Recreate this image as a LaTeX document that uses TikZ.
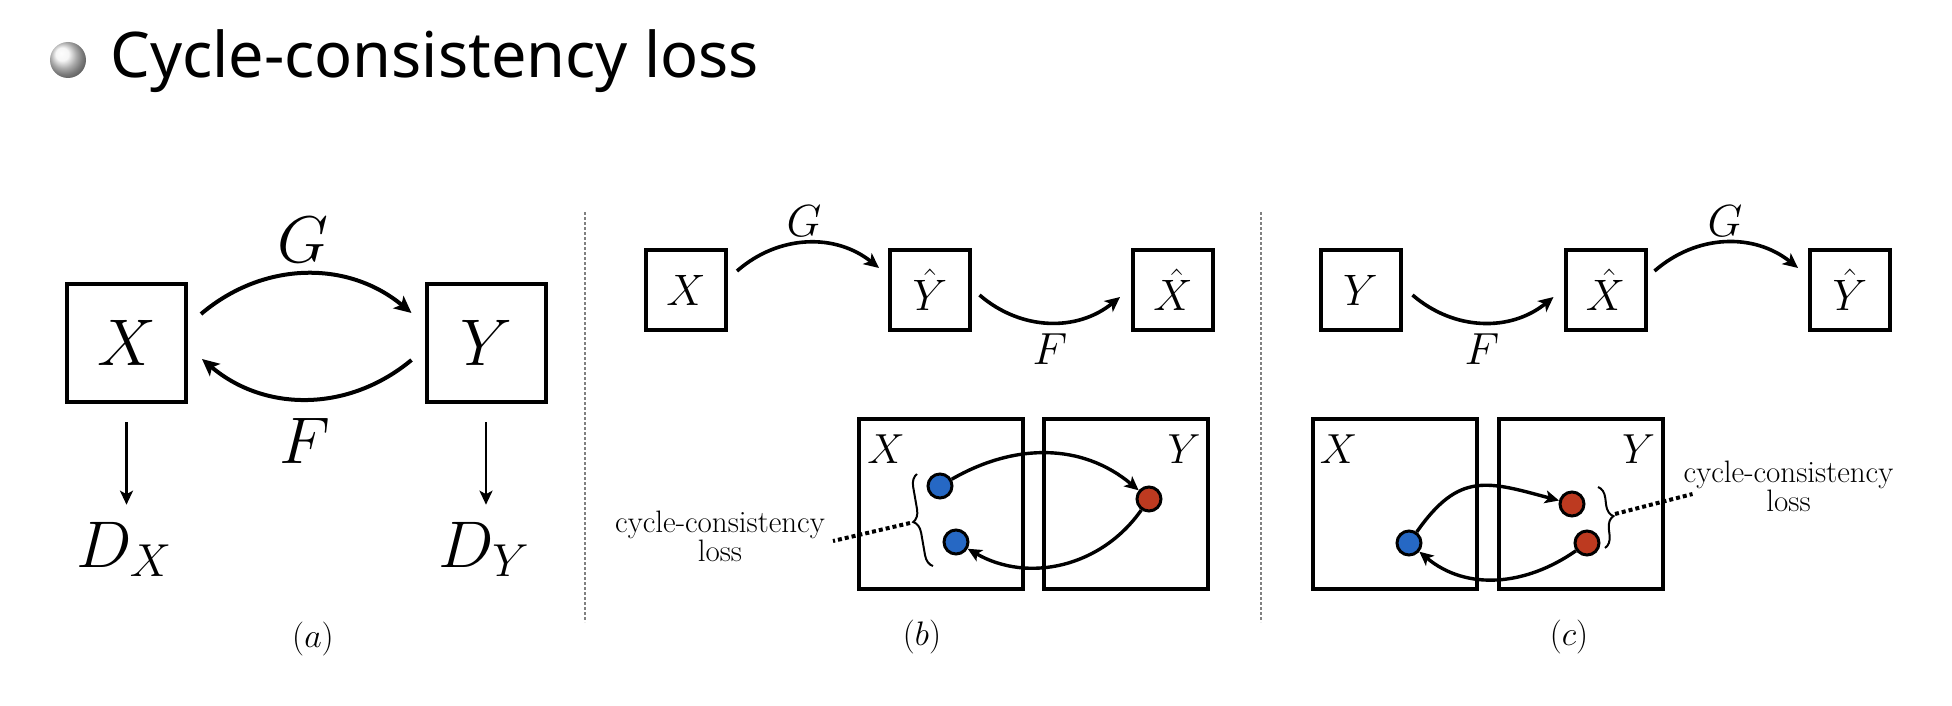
\RequirePackage{fix-cm}
\documentclass[tikz,border=0pt]{standalone}
\usepackage{amsmath}
\usepackage{fontspec}
\newfontfamily\titlefont{Noto Sans}
\usepackage{tikz}
\usetikzlibrary{arrows.meta,decorations.pathreplacing,positioning}

\definecolor{dotblue}{RGB}{38,104,196}
\definecolor{dotred}{RGB}{189,58,32}

\begin{document}
\begin{tikzpicture}[x=1pt,y=1pt,
    box/.style={draw,line width=4pt,minimum width=119pt,minimum height=118pt,inner sep=0pt,font=\fontsize{66}{70}\selectfont},
    sbox/.style={draw,line width=4pt,minimum width=80pt,minimum height=80pt,inner sep=0pt,font=\fontsize{44}{48}\selectfont},
    field/.style={draw,line width=4pt,minimum width=164pt,minimum height=170pt,inner sep=0pt},
    fieldlab/.style={anchor=base,inner sep=0pt,font=\fontsize{42}{46}\selectfont},
    big/.style={anchor=base,inner sep=0pt,font=\fontsize{66}{70}\selectfont},
    lab/.style={anchor=base,inner sep=0pt,font=\fontsize{45}{48}\selectfont},
    capt/.style={inner sep=0pt,font=\fontsize{34}{36}\selectfont},
    note/.style={inner sep=0pt,align=center,font=\fontsize{31}{29}\selectfont},
    arr/.style={line width=4pt,-{Stealth[length=17pt,width=16pt,inset=4pt]}},
    sarr/.style={line width=3.6pt,-{Stealth[length=15pt,width=14pt,inset=4pt]}},
    parr/.style={line width=3.4pt,-{Stealth[length=14pt,width=13pt,inset=3.5pt]}},
    darr/.style={line width=2.6pt,-{Stealth[length=14pt,width=13pt,inset=3.5pt]}},
    bdot/.style={circle,draw,line width=3pt,fill=dotblue,minimum size=24pt,inner sep=0pt},
    rdot/.style={circle,draw,line width=3pt,fill=dotred,minimum size=24pt,inner sep=0pt},
    brc/.style={decorate,decoration={brace,amplitude=12pt},line width=2pt},
    lossline/.style={line width=4pt,dash pattern=on 4pt off 3pt},
    divider/.style={gray,line width=1.3pt,dash pattern=on 3pt off 2pt}]
  \useasboundingbox (0,0) rectangle (1952,-706);

  % title
  \node[circle,minimum size=36pt,inner sep=0pt,shading=ball,ball color=gray!10] (bullet) at (68,-60) {};
  \node[anchor=base west,inner sep=0pt,font=\titlefont\fontsize{63}{70}\selectfont] (title) at (110,-78) {Cycle-consistency loss};

  % (a)
  \node[box] (xa) at (126.5,-343) {$X$};
  \node[box] (ya) at (486,-343) {$Y$};
  \node[big] (dx) at (124,-567) {$D_X$};
  \node[big] (dy) at (484,-567) {$D_Y$};
  \node[big] (ga) at (303,-262) {$G$};
  \node[big] (fa) at (305,-463) {$F$};
  \draw[arr] ([shift={(13,29)}]xa.east) to[bend left=40] ([shift={(-13,30)}]ya.west);
  \draw[arr] ([shift={(-13,-17)}]ya.west) to[bend left=40] ([shift={(14,-16)}]xa.east);
  \draw[darr,shorten <=18pt,shorten >=17pt] (xa.south) -- (xa.south |- dx.north);
  \draw[darr,shorten <=18pt,shorten >=17pt] (ya.south) -- (ya.south |- dy.north);
  \node[capt] (capa) at (313,-639) {$(a)$};

  \draw[divider] (585,-212) -- (585,-622);

  % (b)
  \node[sbox] (xb) at (686,-290) {$X$};
  \node[sbox] (yhb) at (930,-290) {$\hat{Y}$};
  \node[sbox] (xhb) at (1173,-290) {$\hat{X}$};
  \node[lab] (gb) at (804,-236) {$G$};
  \node[lab] (fb) at (1050,-364) {$F$};
  \draw[sarr] ([shift={(9,19)}]xb.east) to[bend left=40] ([shift={(-9,22)}]yhb.west);
  \draw[sarr] ([shift={(7.5,-5)}]yhb.east) to[bend right=40] ([shift={(-11,-7)}]xhb.west);

  \node[field] (bxf) at (941,-504) {};
  \node[field] (byf) at (1126,-504) {};
  \node[fieldlab] (bxl) at (886,-463) {$X$};
  \node[fieldlab] (byl) at (1184,-463) {$Y$};
  \node[bdot] (b1) at (940,-486) {};
  \node[bdot] (b2) at (956,-542) {};
  \node[rdot] (r1) at (1149,-499) {};
  \draw[parr] (b1) to[out=30,in=140] (r1);
  \draw[parr] (r1) to[out=-125,in=-30] (b2);
  \draw[brc] (933,-566) -- (917,-474);
  \coordinate (tb) at (910,-523);
  \node[note] (noteb) at (720,-536) {cycle-consistency\\loss};
  \draw[lossline] (tb) -- ([shift={(8,-5)}]noteb.east);
  \node[capt] (capb) at (922,-637) {$(b)$};

  \draw[divider] (1261,-212) -- (1261,-622);

  % (c)
  \node[sbox] (yc) at (1360.5,-290) {$Y$};
  \node[sbox] (xhc) at (1605.5,-290) {$\hat{X}$};
  \node[sbox] (yhc) at (1850,-290) {$\hat{Y}$};
  \node[lab] (fc) at (1482,-364) {$F$};
  \node[lab] (gc) at (1725,-236) {$G$};
  \draw[sarr] ([shift={(10,-5)}]yc.east) to[bend right=40] ([shift={(-10,-7)}]xhc.west);
  \draw[sarr] ([shift={(7,19)}]xhc.east) to[bend left=40] ([shift={(-10,22)}]yhc.west);

  \node[field] (cxf) at (1395,-504) {};
  \node[field] (cyf) at (1581,-504) {};
  \node[fieldlab] (cxl) at (1338.5,-463) {$X$};
  \node[fieldlab] (cyl) at (1638.5,-463) {$Y$};
  \node[bdot] (cb) at (1409,-543) {};
  \node[rdot] (cr1) at (1572,-504) {};
  \node[rdot] (cr2) at (1587,-543) {};
  \draw[parr] (cb) to[out=55,in=165,looseness=1.3] (cr1);
  \draw[parr] (cr2) to[out=-145,in=-40] (cb);
  \draw[brc] (1598,-487) -- (1605,-548);
  \coordinate (tc) at (1615,-514);
  \node[note] (notec) at (1788.5,-486) {cycle-consistency\\loss};
  \draw[lossline] (tc) -- ([shift={(9,-8)}]notec.west);
  \node[capt] (capc) at (1569,-637) {$(c)$};
\end{tikzpicture}
\end{document}
